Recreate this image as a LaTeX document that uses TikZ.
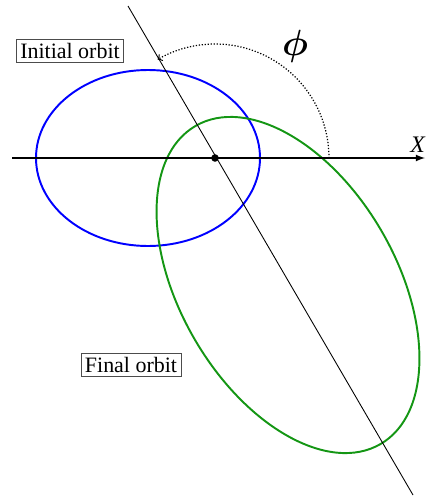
\documentclass[tikz,border=0pt]{standalone}
\usepackage{fontspec}
\setmainfont{Liberation Serif}
\usetikzlibrary{arrows,shapes,positioning}
\definecolor{finalgreen}{RGB}{20,150,20}

\begin{document}
\begin{tikzpicture}[x=0.02cm, y=-0.02cm,
tag/.style={rectangle, draw=black!70, thin, inner sep=2.2pt, font=\fontsize{12.5}{14}\selectfont},
dot/.style={circle, fill, inner sep=0pt, minimum size=4.3pt},
orbit/.style={line width=1.1pt},
axisline/.style={-latex, line width=0.8pt},
apse/.style={line width=0.5pt},
sweep/.style={->, densely dotted, line width=0.7pt}
]
\useasboundingbox (0,0) rectangle (427,497);
\coordinate (xstart) at (12,158);
\coordinate (xend) at (425,158);
\coordinate (apsetop) at (128,6);
\coordinate (apsebot) at (413,495);
\coordinate (sweepstart) at (329,158);
\node[tag] (initial) at (70,51) {Initial orbit};
\node[tag] (final) at (131,365) {Final orbit};
\node[font=\fontsize{21}{25}\selectfont\boldmath] (phi) at (295,46) {$\phi$};
\node[font=\fontsize{13.5}{16}\selectfont] (xlabel) at (418,145) {\textit{X}};
\draw[orbit, blue] (148,158) ellipse [x radius=112, y radius=88];
\draw[orbit, finalgreen, rotate around={-59.8:(288,285)}] (288,285) ellipse [x radius=184, y radius=108];
\draw[apse] (apsetop) -- (apsebot);
\draw[axisline] (xstart) -- (xend);
\draw[sweep] (sweepstart) arc[start angle=0, end angle=-120.2, radius=114];
\node[dot] (focus) at (215,158) {};
\end{tikzpicture}
\end{document}
